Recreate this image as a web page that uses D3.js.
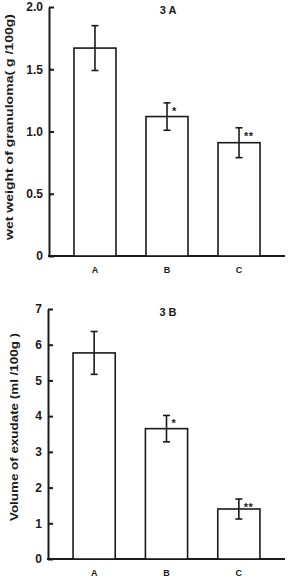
<!DOCTYPE html>
<html>
<head>
<meta charset="utf-8">
<script src="https://cdn.jsdelivr.net/npm/d3@7"></script>
<style>
  body { margin: 0; background: #fff; }
  svg { display: block; }
  text { font-family: "Liberation Sans", Arial, sans-serif; font-weight: bold; fill: #1a1a1a; }
</style>
</head>
<body>
<div id="chart"></div>
<script>
// Data
const groups = ["A", "B", "C"];

const granulomaMean = [1.67, 1.12, 0.91];
const granulomaErr = [0.18, 0.11, 0.12];
const granulomaSig = ["", "*", "**"];
const granulomaTicks = [0, 0.5, 1.0, 1.5, 2.0];
const granulomaTickLabels = ["0", "0.5", "1.0", "1.5", "2.0"];

const exudateMean = [5.77, 3.65, 1.40];
const exudateErr = [0.60, 0.37, 0.28];
const exudateSig = ["", "*", "**"];
const exudateTicks = [0, 1, 2, 3, 4, 5, 6, 7];
const exudateTickLabels = ["0", "1", "2", "3", "4", "5", "6", "7"];

const width = 289, height = 582;
const ink = "#1a1a1a";

const svg = d3.select("#chart").append("svg")
    .attr("width", width)
    .attr("height", height);

// One panel of the figure
function panel(opts) {
    const g = svg.append("g");

    const x = d3.scaleBand(groups, [opts.left + 10, 275])
        .paddingInner(0.417)
        .paddingOuter(0.208);
    const y = d3.scaleLinear([0, opts.max], [opts.bottom, opts.top]);

    const rows = groups.map(function(k, i) {
        return { key: k, mean: opts.mean[i], err: opts.err[i], sig: opts.sig[i] };
    });

    // y axis, ticks pointing inward
    const yAxis = g.append("g")
        .attr("transform", `translate(${opts.left},0)`)
        .call(d3.axisLeft(y)
            .tickValues(opts.ticks)
            .tickFormat(function(d, i) { return opts.tickLabels[i]; })
            .tickSizeInner(-5)
            .tickSizeOuter(0)
            .tickPadding(6));
    yAxis.selectAll("path, line").attr("stroke", ink).attr("stroke-width", 2);
    yAxis.selectAll("text").attr("font-size", 12).attr("font-family", null).attr("fill", ink);

    // x axis baseline and group labels
    g.append("line")
        .attr("x1", opts.left - 1).attr("x2", 285)
        .attr("y1", y(0)).attr("y2", y(0))
        .attr("stroke", ink).attr("stroke-width", 2);

    const xAxis = g.append("g")
        .attr("transform", `translate(0,${y(0)})`)
        .call(d3.axisBottom(x).tickSize(0).tickPadding(11));
    xAxis.select(".domain").remove();
    xAxis.selectAll("text").attr("font-size", 9).attr("font-family", null).attr("fill", ink);

    // bars
    g.append("g").selectAll("rect")
        .data(rows)
        .join("rect")
        .attr("x", function(d) { return x(d.key); })
        .attr("width", x.bandwidth())
        .attr("y", function(d) { return y(d.mean); })
        .attr("height", function(d) { return y(0) - y(d.mean); })
        .attr("fill", "#fff")
        .attr("stroke", ink)
        .attr("stroke-width", 1.6);

    // error bars
    const eb = g.append("g")
        .attr("stroke", ink)
        .attr("stroke-width", 1.6)
        .selectAll("g")
        .data(rows)
        .join("g")
        .attr("transform", function(d) { return `translate(${x(d.key) + x.bandwidth() / 2},0)`; });
    eb.append("line")
        .attr("y1", function(d) { return y(d.mean + d.err); })
        .attr("y2", function(d) { return y(d.mean - d.err); });
    eb.append("line")
        .attr("x1", -3.5).attr("x2", 3.5)
        .attr("y1", function(d) { return y(d.mean + d.err); })
        .attr("y2", function(d) { return y(d.mean + d.err); });
    eb.append("line")
        .attr("x1", -3.5).attr("x2", 3.5)
        .attr("y1", function(d) { return y(d.mean - d.err); })
        .attr("y2", function(d) { return y(d.mean - d.err); });

    // significance marks
    g.append("g").selectAll("text")
        .data(rows.filter(function(d) { return d.sig; }))
        .join("text")
        .attr("x", function(d) { return x(d.key) + x.bandwidth() / 2 + 5; })
        .attr("y", function(d) { return y(d.mean + d.err) + 12; })
        .attr("font-size", 11)
        .attr("letter-spacing", 0.5)
        .text(function(d) { return d.sig; });

    // panel title
    g.append("text")
        .attr("x", 168)
        .attr("y", opts.top + 7)
        .attr("text-anchor", "middle")
        .attr("font-size", 11)
        .text(opts.title);

    // y label
    g.append("text")
        .attr("transform", `translate(${opts.labelX},${opts.labelY}) rotate(-90)`)
        .attr("text-anchor", "middle")
        .attr("dy", "0.35em")
        .attr("font-size", 10)
        .attr("textLength", opts.labelLen)
        .attr("lengthAdjust", "spacingAndGlyphs")
        .text(opts.label);
}

panel({
    top: 7, bottom: 256, left: 49, max: 2,
    mean: granulomaMean, err: granulomaErr, sig: granulomaSig,
    ticks: granulomaTicks, tickLabels: granulomaTickLabels,
    title: "3 A",
    label: "wet weight of granuloma( g /100g)",
    labelX: 9, labelY: 127, labelLen: 226
});

panel({
    top: 309, bottom: 559, left: 48, max: 7,
    mean: exudateMean, err: exudateErr, sig: exudateSig,
    ticks: exudateTicks, tickLabels: exudateTickLabels,
    title: "3 B",
    label: "Volume of exudate (ml /100g )",
    labelX: 14, labelY: 427, labelLen: 188
});
</script>
</body>
</html>
